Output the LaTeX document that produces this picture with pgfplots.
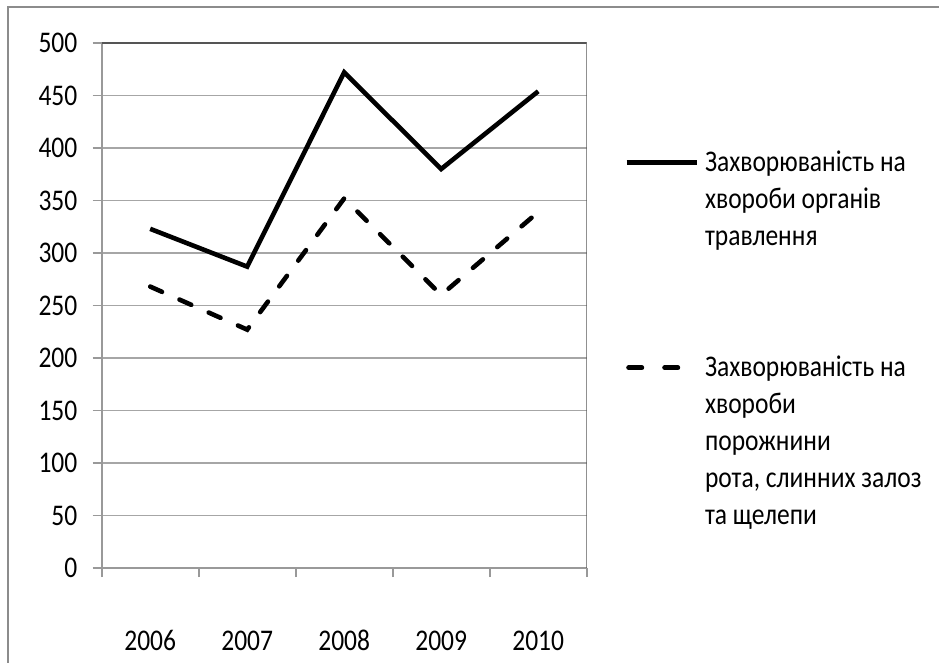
\documentclass[border=0pt]{standalone}
\usepackage{fontspec}
\setmainfont{Carlito}[FakeStretch=0.85]
\usepackage{pgfplots}
\pgfplotsset{compat=1.18}
\definecolor{gridgray}{HTML}{A6A6A6}
\definecolor{axgray}{HTML}{999999}
\definecolor{boxgray}{HTML}{555555}
\definecolor{framegray}{HTML}{8C8C8C}
\newcommand{\entry}[1]{\parbox[t]{125bp}{\raggedright\fontsize{15bp}{18.5bp}\selectfont #1}}
\begin{document}
\fontsize{15bp}{18.5bp}\selectfont
\begin{tikzpicture}
\begin{axis}[
    at={(0,0)}, anchor=south west,
    scale only axis,
    width=242.5bp, height=262.5bp,
    xmin=-0.5, xmax=4.5,
    ymin=0, ymax=500,
    ytick={0,50,...,500},
    xtick={-0.5,0.5,...,4.5},
    xticklabels={},
    extra x ticks={0,1,2,3,4},
    extra x tick labels={2006,2007,2008,2009,2010},
    extra x tick style={major tick length=0pt},
    axis x line*=bottom, axis y line*=left,
    axis line style={axgray, line width=0.8bp},
    tick style={axgray, line width=0.8bp},
    tick align=outside,
    major tick length=4.5bp,
    ymajorgrids,
    grid style={gridgray, line width=0.7bp},
    /pgf/number format/assume math mode=true,
    yticklabel style={font=\fontsize{15bp}{18bp}\selectfont, inner sep=0pt, xshift=-7.5bp},
    xticklabel style={font=\fontsize{15bp}{18bp}\selectfont, anchor=base, yshift=-41bp},
    legend style={at={(1.077,0.795)}, anchor=north west, draw=none, fill=none,
        inner sep=0pt, row sep=90bp, column sep=3bp,
        nodes={inner sep=0pt},
        cells={anchor=base west}},
    legend cell align=left,
    legend image code/.code={\draw[#1] (0bp,0.5bp) -- (35bp,0.5bp);},
]
\addplot[black, line width=2.3bp] coordinates {
    (0,323) (1,287) (2,472) (3,380) (4,454)
};
\addlegendentry{\entry{Захворюваність на\\хвороби органів\\травлення}}
\addplot[black, line width=2.3bp, line cap=round, dash pattern=on 6.5bp off 9.5bp,
    legend image code/.code={\draw[black, line width=2.5bp, line cap=round] (1bp,0.5bp) -- (12bp,0.5bp) (19bp,0.5bp) -- (26bp,0.5bp);}]
    coordinates {
    (0,268) (1,227) (2,352) (3,260) (4,339)
};
\addlegendentry{\entry{Захворюваність на\\хвороби\\порожнини\\рота, слинних залоз\\та щелепи}}
\draw[boxgray, line width=1bp] (rel axis cs:0,1) -- (rel axis cs:1,1) -- (rel axis cs:1,0);
\end{axis}
\draw[framegray, line width=1.3bp] (-46.85bp,-50bp) -- (-46.85bp,280.5bp) -- (430bp,280.5bp);
\pgfresetboundingbox
\path[use as bounding box] (-50.85bp,-47.5bp) rectangle (418.65bp,284bp);
\end{tikzpicture}
\end{document}
